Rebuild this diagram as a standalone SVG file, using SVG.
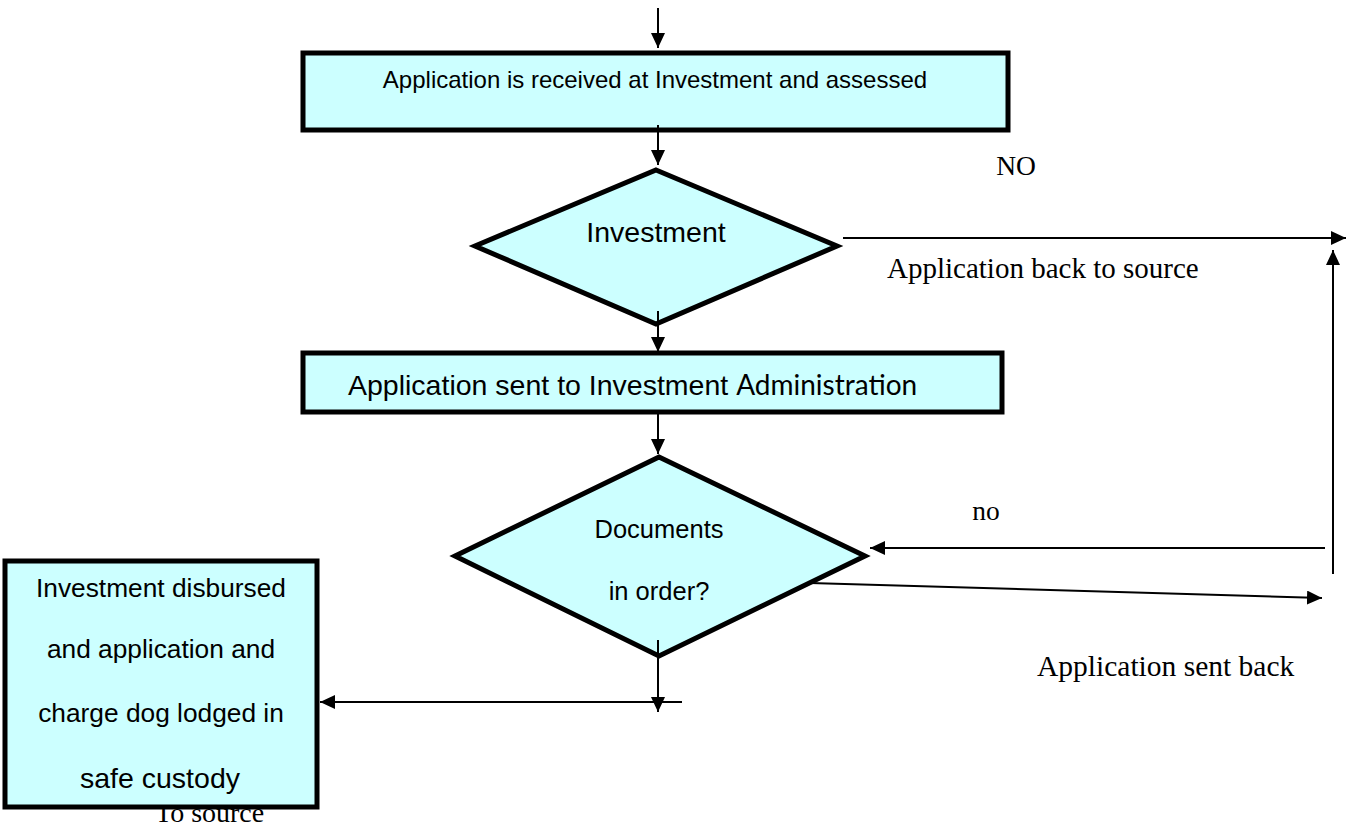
<svg xmlns="http://www.w3.org/2000/svg" width="1348" height="825" viewBox="0 0 1348 825">
<style>
.shape{fill:#CCFFFF;stroke:#000;stroke-width:5;stroke-linejoin:miter}
.sans{font-family:"Liberation Sans",Arial,sans-serif;fill:#000}
.serif{font-family:"Liberation Serif","Times New Roman",serif;fill:#000}
.cal{font-family:Lato,"Open Sans",sans-serif}
.conn line{stroke:#000;stroke-width:2;marker-end:url(#ah)}
</style>
<defs>
<marker id="ah" markerUnits="userSpaceOnUse" markerWidth="16" markerHeight="14" refX="15" refY="7" orient="auto">
<path d="M0,0 L15,7 L0,14 z" fill="#000"/>
</marker>
</defs>
<rect width="1348" height="825" fill="#fff"/>
<text id="lbl-tosource" class="serif" x="155" y="822" font-size="28">To source</text>
<g id="n-received">
<rect class="shape" x="303" y="53" width="705" height="77"/>
<text class="sans" x="655" y="88" font-size="24" text-anchor="middle">Application is received at Investment and assessed</text>
</g>
<g id="n-investment">
<polygon class="shape" points="656,170 837,246 656,324 475,246"/>
<text class="sans" x="656" y="242" font-size="28.5" text-anchor="middle">Investment</text>
</g>
<g id="n-sent">
<rect class="shape" x="303" y="353" width="699" height="59"/>
<text class="sans" x="348" y="395" font-size="28.5">Application sent to Investment <tspan class="cal" font-size="28">Administration</tspan></text>
</g>
<g id="n-documents">
<polygon class="shape" points="659,457 865,556 659,656 455,556"/>
<text class="sans" x="659" y="538" font-size="25.5" text-anchor="middle">Documents</text>
<text class="sans" x="659" y="600" font-size="25.5" text-anchor="middle">in order?</text>
</g>
<g id="n-disbursed">
<rect class="shape" x="5" y="561" width="312" height="246"/>
<text class="sans" x="161" y="597" font-size="26.3" text-anchor="middle">Investment disbursed</text>
<text class="sans" x="161" y="658" font-size="26.3" text-anchor="middle">and application and</text>
<text class="sans" x="161" y="722" font-size="26.3" text-anchor="middle">charge dog lodged in</text>
<text class="sans" x="160" y="788" font-size="28.5" text-anchor="middle">safe custody</text>
</g>
<g id="connectors" class="conn">
<line x1="658" y1="8" x2="658" y2="48"/>
<line x1="658" y1="125" x2="658" y2="165"/>
<line x1="658" y1="311" x2="658" y2="352"/>
<line x1="658" y1="412" x2="658" y2="454"/>
<line x1="658" y1="640" x2="658" y2="712"/>
<line x1="682" y1="702" x2="320" y2="702"/>
<line x1="843" y1="238" x2="1346" y2="238"/>
<line x1="1333" y1="574" x2="1333" y2="250"/>
<line x1="1325" y1="548" x2="870" y2="548"/>
<line x1="810" y1="583" x2="1322" y2="598"/>
</g>
<g id="labels">
<text class="serif" x="1016" y="175" font-size="27.5" text-anchor="middle">NO</text>
<text class="serif" x="887" y="278" font-size="29">Application back to source</text>
<text class="serif" x="986" y="520" font-size="27.5" text-anchor="middle">no</text>
<text class="serif" x="1037" y="676" font-size="29.5">Application sent back</text>
</g>
</svg>
